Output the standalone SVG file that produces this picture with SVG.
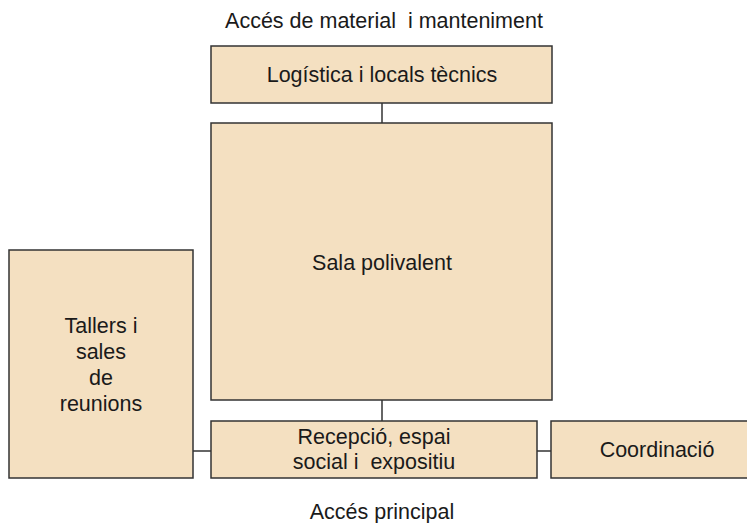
<svg xmlns="http://www.w3.org/2000/svg" width="747" height="523" viewBox="0 0 747 523">
<style>
.box{fill:#F4E0C1;stroke:#333;stroke-width:1.5}
.t{font-family:"Liberation Sans",Arial,sans-serif;font-size:21.5px;fill:#1a1a1a;text-anchor:middle;white-space:pre}
.c{stroke:#333;stroke-width:1.5;fill:none}
</style>
<rect width="747" height="523" fill="#fff"/>
<text class="t" x="384" y="28" xml:space="preserve">Accés de material  i manteniment</text>
<text class="t" x="382" y="519">Accés principal</text>
<g id="connectors">
<line class="c" x1="382" y1="103" x2="382" y2="123"/>
<line class="c" x1="382" y1="400" x2="382" y2="421"/>
<line class="c" x1="193" y1="451" x2="211" y2="451"/>
<line class="c" x1="537" y1="451" x2="551" y2="451"/>
</g>
<g id="logistica">
<rect class="box" x="211" y="46" width="341" height="57"/>
<text class="t" x="382" y="82">Logística i locals tècnics</text>
</g>
<g id="sala">
<rect class="box" x="211" y="123" width="341" height="277"/>
<text class="t" x="382" y="270">Sala polivalent</text>
</g>
<g id="tallers">
<rect class="box" x="9" y="250" width="184" height="228"/>
<text class="t" x="101" y="333">Tallers i</text>
<text class="t" x="101" y="359">sales</text>
<text class="t" x="101" y="385">de</text>
<text class="t" x="101" y="411">reunions</text>
</g>
<g id="recepcio">
<rect class="box" x="211" y="421" width="326" height="57"/>
<text class="t" x="374" y="444">Recepció, espai</text>
<text class="t" x="374" y="469" xml:space="preserve">social i  expositiu</text>
</g>
<g id="coordinacio">
<rect class="box" x="551" y="421" width="200" height="57"/>
<text class="t" x="657" y="457">Coordinació</text>
</g>
</svg>
